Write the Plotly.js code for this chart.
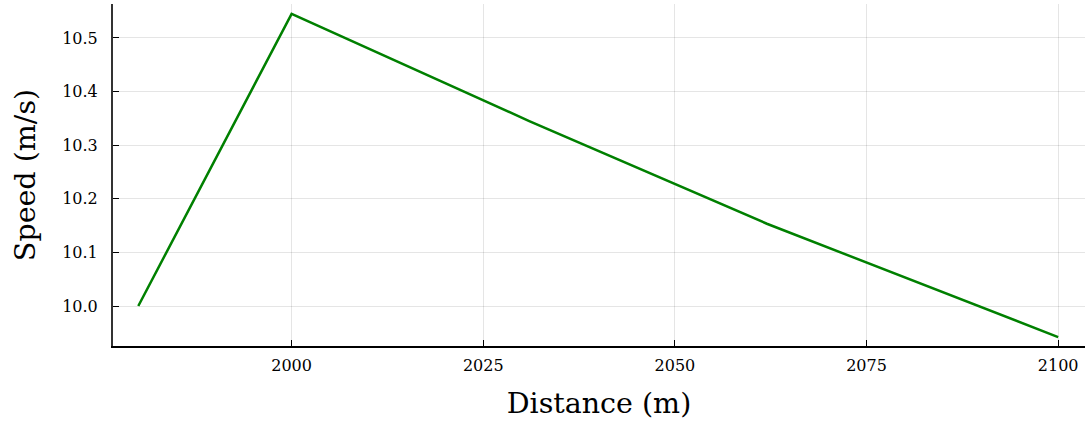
<!DOCTYPE html>
<html>
<head>
<meta charset="utf-8">
<script src="https://cdn.plot.ly/plotly-3.0.1.min.js"></script>
<style>
  html, body { margin: 0; padding: 0; background: #fff; }
  #chart { width: 1085px; height: 423px; }
</style>
</head>
<body>
<div id="chart"></div>
<script>
// Speed profile along the track
const distance = [1980, 2000, 2031, 2062, 2100];
const speed = [10.0, 10.545, 10.345, 10.1535, 9.942];

const xTicks = [2000, 2025, 2050, 2075, 2100];
const yTicks = [10.0, 10.1, 10.2, 10.3, 10.4, 10.5];

const serif = "'DejaVu Serif', 'Liberation Serif', serif";

const trace = {
  x: distance,
  y: speed,
  type: 'scatter',
  mode: 'lines',
  line: { color: '#008000', width: 2.5 },
  hoverinfo: 'skip'
};

const layout = {
  width: 1085,
  height: 423,
  margin: { l: 113, r: 0, t: 4, b: 77 },
  paper_bgcolor: '#fff',
  plot_bgcolor: '#fff',
  showlegend: false,
  font: { family: serif, color: '#000' },
  xaxis: {
    range: [1976.7, 2103.5],
    tickvals: xTicks,
    ticktext: xTicks.map(String),
    ticks: 'inside',
    ticklen: 6,
    tickcolor: '#000',
    showline: true,
    linecolor: '#000',
    linewidth: 1.5,
    showgrid: true,
    gridcolor: 'rgba(0,0,0,0.1)',
    gridwidth: 1,
    zeroline: false,
    tickfont: { family: serif, size: 16 },
    ticklabelstandoff: 4,
    title: { text: 'Distance (m)', font: { family: serif, size: 28.5 }, standoff: 19 }
  },
  yaxis: {
    range: [9.9254, 10.5634],
    tickvals: yTicks,
    ticktext: yTicks.map(v => v.toFixed(1)),
    ticks: 'inside',
    ticklen: 6,
    tickcolor: '#000',
    showline: true,
    linecolor: '#333',
    linewidth: 2,
    showgrid: true,
    gridcolor: 'rgba(0,0,0,0.1)',
    gridwidth: 1,
    zeroline: false,
    tickfont: { family: serif, size: 16 },
    ticklabelstandoff: 10,
    title: { text: 'Speed (m/s)', font: { family: serif, size: 28.5 }, standoff: 18 }
  }
};

Plotly.newPlot('chart', [trace], layout, { staticPlot: true, displayModeBar: false });
</script>
</body>
</html>
